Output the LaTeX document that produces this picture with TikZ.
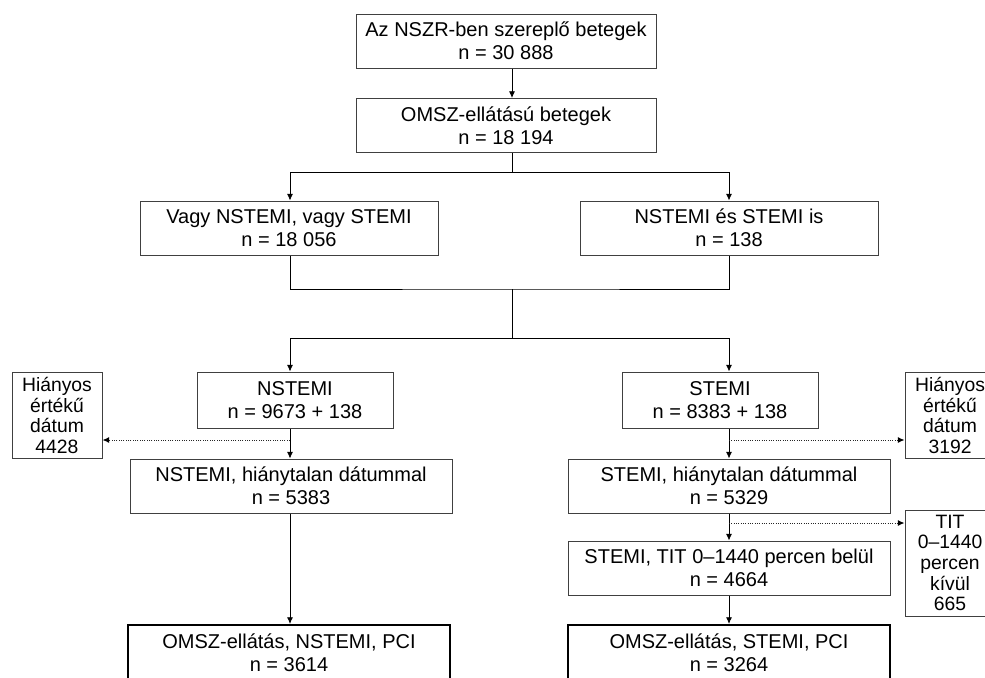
\documentclass[tikz,border=0pt]{standalone}
\usepackage{fontspec}
\setmainfont{Liberation Sans}
\usetikzlibrary{arrows.meta}

\tikzset{
  box/.style={draw=black!75, line width=0.75pt, align=center, inner sep=0pt,
    font=\fontsize{15}{17.5}\selectfont, minimum height=40.5pt},
  finalbox/.style={box, draw=black, line width=1.6pt},
  sidebox/.style={draw=black!75, line width=0.75pt, align=center, inner sep=0pt,
    font=\fontsize{14.5}{15.5}\selectfont, minimum width=67.5pt},
  flow/.style={-{Latex[length=5pt,width=4.5pt]}, line width=0.6pt},
  miss/.style={-{Latex[length=5pt,width=4.5pt,black]}, densely dotted, line width=0.75pt, black!85},
}

\begin{document}
\begin{tikzpicture}[x=0.75pt,y=-0.75pt]
  \useasboundingbox (0,0) rectangle (985,678);

  %columns of the connectors
  \coordinate (cl) at (290,0);
  \coordinate (cm) at (512,0);
  \coordinate (cr) at (729,0);

  %registry and ambulance service
  \node[box, minimum width=225pt] (nszr) at (506,41) {Az NSZR-ben szereplő betegek\\n = 30 888};
  \node[box, minimum width=225pt] (omsz) at (506,125.5) {OMSZ-ellátású betegek\\n = 18 194};

  %diagnosis groups
  \node[box, minimum width=223.5pt] (either) at (289,228) {Vagy NSTEMI, vagy STEMI\\n = 18 056};
  \node[box, minimum width=223.5pt] (both) at (729,228) {NSTEMI és STEMI is\\n = 138};

  %infarct types
  \node[box, minimum width=147pt, minimum height=42pt] (nstemi) at (295,400) {NSTEMI\\n = 9673 + 138};
  \node[box, minimum width=147pt, minimum height=42pt] (stemi) at (720,400) {STEMI\\n = 8383 + 138};

  %excluded cases
  \node[sidebox, minimum height=65pt] (missl) at (57,415.5) {Hiányos\\értékű\\dátum\\4428};
  \node[sidebox, minimum height=65pt] (missr) at (950,415.5) {Hiányos\\értékű\\dátum\\3192};
  \node[sidebox, minimum height=79.5pt] (titout) at (950,563) {TIT\\0–1440\\percen\\kívül\\665};

  %complete dates
  \node[box, minimum width=241.5pt] (nfull) at (291,486) {NSTEMI, hiánytalan dátummal\\n = 5383};
  \node[box, minimum width=241.5pt] (sfull) at (729,486) {STEMI, hiánytalan dátummal\\n = 5329};
  \node[box, minimum width=241.5pt] (stit) at (729,568) {STEMI, TIT 0–1440 percen belül\\n = 4664};

  %final groups
  \node[finalbox, minimum width=241.5pt, minimum height=42pt] (npci) at (289,653) {OMSZ-ellátás, NSTEMI, PCI\\n = 3614};
  \node[finalbox, minimum width=241.5pt, minimum height=42pt] (spci) at (729,653) {OMSZ-ellátás, STEMI, PCI\\n = 3264};

  %branch points
  \coordinate (split) at (512,172);
  \coordinate (merge) at (512,289);
  \coordinate (resplit) at (512,338);
  \coordinate (gapl) at (290,440);
  \coordinate (gapr) at (729,440);
  \coordinate (gapt) at (729,523);

  %connectors
  \draw[flow] (nszr.south -| cm) -- (omsz.north -| cm);
  \draw (omsz.south -| cm) -- (split);
  \draw (split -| cl) -- (split -| cr);
  \draw[flow] (split -| cl) -- (either.north -| cl);
  \draw[flow] (split -| cr) -- (both.north -| cr);
  \draw (either.south -| cl) |- (merge) -| (both.south -| cr);
  \draw (merge) -- (resplit);
  \draw (resplit -| cl) -- (resplit -| cr);
  \draw[flow] (resplit -| cl) -- (nstemi.north -| cl);
  \draw[flow] (resplit -| cr) -- (stemi.north -| cr);
  \draw[flow] (nstemi.south -| cl) -- (nfull.north -| cl);
  \draw[flow] (stemi.south -| cr) -- (sfull.north -| cr);
  \draw[flow] (sfull.south -| cr) -- (stit.north -| cr);
  \draw[flow] (nfull.south -| cl) -- (npci.north -| cl);
  \draw[flow] (stit.south -| cr) -- (spci.north -| cr);

  %dropped cases
  \draw[miss] (gapl) -- (gapl -| missl.east);
  \draw[miss] (gapr) -- (gapr -| missr.west);
  \draw[miss] (gapt) -- (gapt -| titout.west);
\end{tikzpicture}
\end{document}
